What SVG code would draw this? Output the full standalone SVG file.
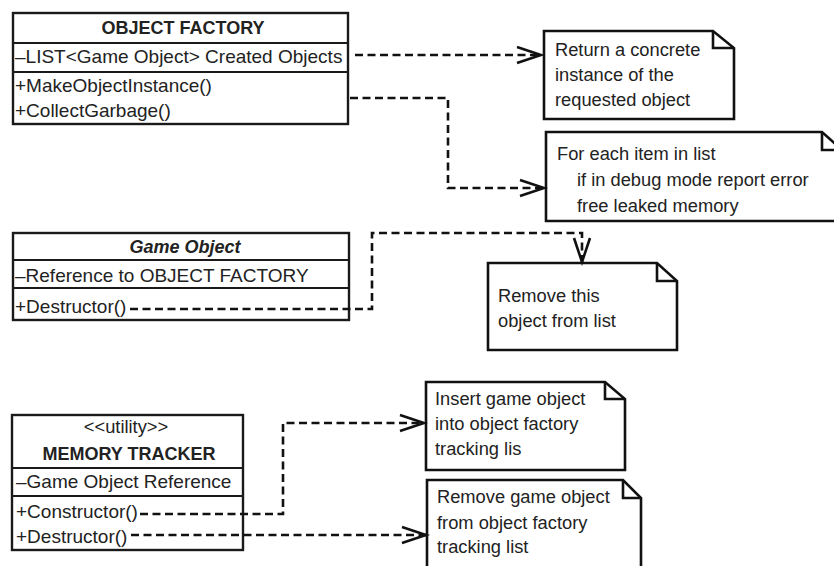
<svg xmlns="http://www.w3.org/2000/svg" width="834" height="566" viewBox="0 0 834 566">
<style>
.box{fill:#fff;stroke:#1a1a1a;stroke-width:2.4}
.div{stroke:#1a1a1a;stroke-width:2.2;fill:none}
.note{fill:#fff;stroke:#111;stroke-width:2.6;stroke-linejoin:miter}
.fold{fill:none;stroke:#111;stroke-width:2.6}
.conn{fill:none;stroke:#111;stroke-width:2.6;stroke-dasharray:8 4.5}
text{font-family:"Liberation Sans",Arial,sans-serif;fill:#222}
.m{font-size:19px}
.t{font-size:18px;font-weight:bold;text-anchor:middle}
.n{font-size:18.3px}
</style>
<defs>
<marker id="arr" markerUnits="userSpaceOnUse" markerWidth="30" markerHeight="20" viewBox="-26 -10 30 20" refX="0" refY="0" orient="auto">
<path d="M-24,-8 L0,0 L-24,8" fill="none" stroke="#111" stroke-width="2.6"/>
</marker>
</defs>
<g id="object-factory">
<rect class="box" x="13" y="13" width="335" height="111"/>
<path class="div" d="M13,43 H348 M13,72 H348"/>
<text class="t" x="183" y="34">OBJECT FACTORY</text>
<text class="m" x="15" y="63">–LIST&lt;Game Object&gt; Created Objects</text>
<text class="m" x="15" y="92">+MakeObjectInstance()</text>
<text class="m" x="15" y="117">+CollectGarbage()</text>
</g>
<g id="game-object">
<rect class="box" x="13" y="233" width="336" height="87"/>
<path class="div" d="M13,260 H349 M13,288 H349"/>
<text class="t" x="185" y="253" font-style="italic">Game Object</text>
<text class="m" x="15" y="282">–Reference to OBJECT FACTORY</text>
<text class="m" x="15" y="313">+Destructor()</text>
</g>
<g id="memory-tracker">
<rect class="box" x="12" y="415" width="231" height="135"/>
<path class="div" d="M12,468 H243 M12,496 H243"/>
<text class="n" x="126" y="433" text-anchor="middle" font-size="18px">&lt;&lt;utility&gt;&gt;</text>
<text class="t" x="129" y="460">MEMORY TRACKER</text>
<text class="m" x="16" y="488">–Game Object Reference</text>
<text class="m" x="16" y="518">+Constructor()</text>
<text class="m" x="16" y="543">+Destructor()</text>
</g>
<g id="note-return">
<path class="note" d="M544,31 H713 L734,48 V119 H544 Z"/>
<path class="fold" d="M713,31 V48 H734"/>
<text class="n" x="555" y="56">Return a concrete</text>
<text class="n" x="555" y="81">instance of the</text>
<text class="n" x="555" y="106">requested object</text>
</g>
<g id="note-collect">
<path class="note" d="M546,132 H822 L842,150 V221 H546 Z"/>
<path class="fold" d="M822,132 V150 H842"/>
<text class="n" x="557" y="160">For each item in list</text>
<text class="n" x="577" y="186">if in debug mode report error</text>
<text class="n" x="577" y="212">free leaked memory</text>
</g>
<g id="note-remove-this">
<path class="note" d="M488,263 H657 L677,281 V350 H488 Z"/>
<path class="fold" d="M657,263 V281 H677"/>
<text class="n" x="498" y="302">Remove this</text>
<text class="n" x="498" y="327">object from list</text>
</g>
<g id="note-insert">
<path class="note" d="M426,382 H605 L625,399 V470 H426 Z"/>
<path class="fold" d="M605,382 V399 H625"/>
<text class="n" x="435" y="405">Insert game object</text>
<text class="n" x="435" y="430">into object factory</text>
<text class="n" x="435" y="455">tracking lis</text>
</g>
<g id="note-remove-game">
<path class="note" d="M427,480 H623 L641,498 V580 H427 Z"/>
<path class="fold" d="M623,480 V498 H641"/>
<text class="n" x="437" y="503">Remove game object</text>
<text class="n" x="437" y="529">from object factory</text>
<text class="n" x="437" y="553">tracking list</text>
</g>
<g id="connectors">
<path class="conn" d="M355,55 H541" marker-end="url(#arr)"/>
<path class="conn" d="M350,98 H448 V188 H544" marker-end="url(#arr)"/>
<path class="conn" d="M130,309 H372 V233 H582 V262" marker-end="url(#arr)"/>
<path class="conn" d="M140,514 H283 V423 H424" marker-end="url(#arr)"/>
<path class="conn" d="M131,535 H426" marker-end="url(#arr)"/>
</g>
</svg>
